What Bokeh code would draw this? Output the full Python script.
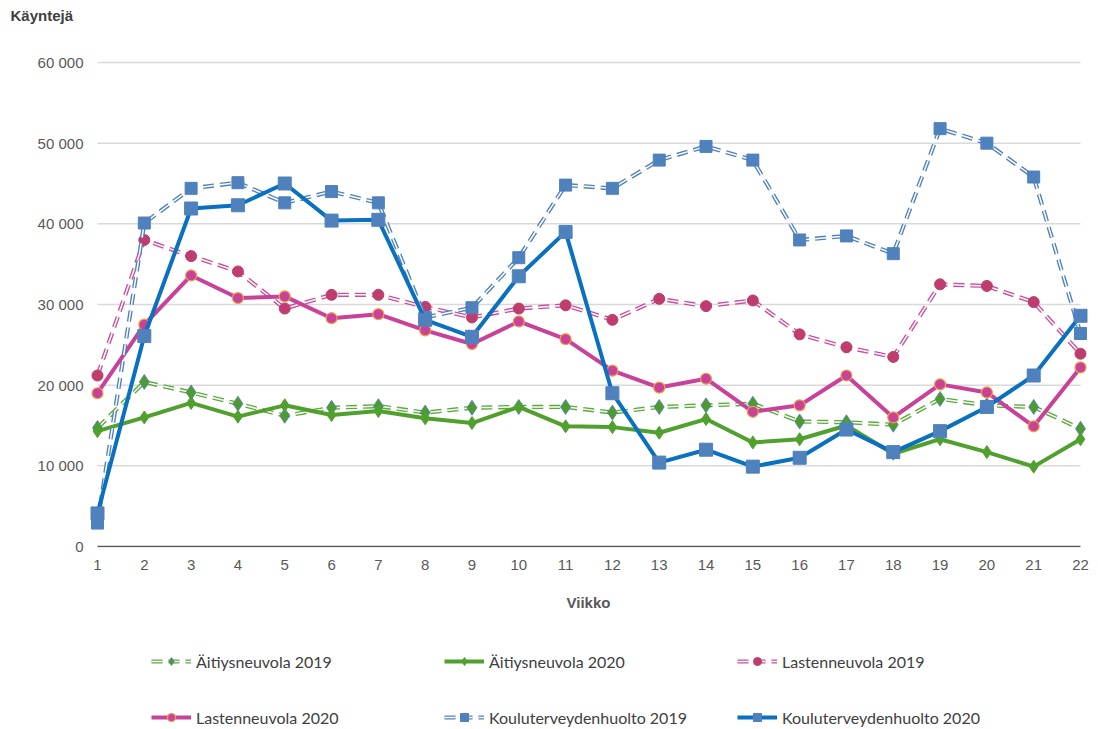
from bokeh.plotting import figure
from bokeh.layouts import column
from bokeh.models import (Range1d, FixedTicker, CustomJSTickFormatter, Legend, LegendItem,
                          ColumnDataSource, Label)
from bokeh.embed import file_html
from bokeh.resources import INLINE

weeks = list(range(1, 23))
aitiys_2019 = [14700, 20400, 19100, 17700, 16200, 17200, 17400, 16600, 17200, 17300, 17300,
               16600, 17300, 17500, 17700, 15500, 15400, 15100, 18300, 17500, 17300, 14600]
aitiys_2020 = [14300, 16000, 17800, 16100, 17500, 16300, 16800, 15900, 15300, 17300, 14900,
               14800, 14100, 15800, 12900, 13300, 15000, 11500, 13300, 11700, 9900, 13300]
lasten_2019 = [21200, 38000, 36000, 34100, 29500, 31200, 31200, 29700, 28400, 29500, 29900,
               28100, 30700, 29800, 30500, 26300, 24700, 23500, 32500, 32300, 30300, 23900]
lasten_2020 = [19000, 27500, 33600, 30800, 31000, 28300, 28800, 26800, 25100, 27900, 25700,
               21800, 19700, 20800, 16700, 17500, 21200, 16000, 20100, 19100, 14900, 22200]
koulu_2019 = [2900, 40100, 44400, 45100, 42600, 44000, 42600, 28400, 29600, 35800, 44800,
              44400, 47900, 49600, 47900, 38000, 38500, 36300, 51800, 50000, 45800, 26400]
koulu_2020 = [4100, 26100, 41900, 42300, 45000, 40400, 40500, 28100, 26000, 33500, 39000,
              19000, 10400, 12000, 9900, 11000, 14500, 11700, 14300, 17300, 21200, 28600]
y_ticks = [0, 10000, 20000, 30000, 40000, 50000, 60000]
labels = ["Äitiysneuvola 2019", "Äitiysneuvola 2020", "Lastenneuvola 2019",
          "Lastenneuvola 2020", "Kouluterveydenhuolto 2019", "Kouluterveydenhuolto 2020"]
series_values = [aitiys_2019, aitiys_2020, lasten_2019, lasten_2020, koulu_2019, koulu_2020]

W = 1096
TOP_H, MAIN_H, LEG_H = 30, 595, 102

# ---------- title strip ----------
pt = figure(width=W, height=TOP_H, output_backend="svg", toolbar_location=None,
            x_axis_location=None, y_axis_location=None, min_border=0, title=None,
            x_range=Range1d(0, 1), y_range=Range1d(0, 1), frame_align=False)
pt.outline_line_color = None
pt.grid.visible = False
pt.add_layout(Label(x=10, y=15, x_units="screen", y_units="screen", text="Käyntejä",
                    text_font="Liberation Sans", text_font_style="bold",
                    text_font_size="15px", text_color="#404040",
                    text_baseline="middle", text_align="left"))

# ---------- main chart ----------
p = figure(width=W, height=MAIN_H, output_backend="svg", toolbar_location=None, title=None,
           x_range=Range1d(0.7436, 22.235), y_range=Range1d(-124, 60124),
           min_border_left=85, min_border_right=W - 85 - 1006,
           min_border_top=31, min_border_bottom=MAIN_H - 31 - 486)
p.outline_line_color = None

p.yaxis.ticker = FixedTicker(ticks=y_ticks)
p.yaxis.formatter = CustomJSTickFormatter(code="return tick.toString().replace(/\\B(?=(\\d{3})+(?!\\d))/g, ' ');")
p.yaxis.axis_line_color = None
p.yaxis.major_tick_line_color = None
p.yaxis.minor_tick_line_color = None
p.yaxis.major_tick_out = 0
p.yaxis.minor_tick_out = 0
p.yaxis.major_label_standoff = 2
p.yaxis.major_label_text_font = "Liberation Sans"
p.yaxis.major_label_text_font_size = "15px"
p.yaxis.major_label_text_color = "#595959"

p.xaxis.ticker = FixedTicker(ticks=weeks)
p.xaxis.axis_line_color = None
p.xaxis.major_tick_line_color = None
p.xaxis.minor_tick_line_color = None
p.xaxis.major_tick_out = 0
p.xaxis.minor_tick_out = 0
p.xaxis.major_label_standoff = 12
p.xaxis.major_label_text_font = "Liberation Sans"
p.xaxis.major_label_text_font_size = "15px"
p.xaxis.major_label_text_color = "#595959"
p.xaxis.axis_label = "Viikko"
p.xaxis.axis_label_text_font = "Liberation Sans"
p.xaxis.axis_label_text_font_style = "bold"
p.xaxis.axis_label_text_font_size = "15px"
p.xaxis.axis_label_text_color = "#595959"
p.xaxis.axis_label_standoff = 21

p.xgrid.grid_line_color = None
p.ygrid.grid_line_color = None

gy = y_ticks[1:]
p.segment(x0=[weeks[0]] * len(gy), x1=[weeks[-1]] * len(gy), y0=gy, y1=gy,
          line_color="#D9D9D9", line_width=1.5)
p.segment(x0=[weeks[0]], x1=[weeks[-1]], y0=[y_ticks[0]], y1=[y_ticks[0]],
          line_color="#595959", line_width=1.5)

DASH = "11 6"
styles = [
    dict(double=True, color="#5AAA3C", marker="diamond", size=15, fill="#4E9A2E", outline="#4F81BD", olw=0.8),
    dict(double=False, color="#50A02D", marker="diamond", size=13, fill="#50A02D", outline="#50A02D", olw=1),
    dict(double=True, color="#CC4D9B", marker="circle", size=11, fill="#BE3C6E", outline="#BE3C6E", olw=1),
    dict(double=False, color="#C8429A", marker="circle", size=11, fill="#C8429A", outline="#F0A040", olw=1.2),
    dict(double=True, color="#4F81BD", marker="square", size=12, fill="#4F81BD", outline="#4F81BD", olw=1),
    dict(double=False, color="#0A70C0", marker="square", size=13, fill="#4F81BD", outline="#4F81BD", olw=1),
]

def add_series(fig, xs, ys, st):
    src = ColumnDataSource(dict(x=xs, y=ys))
    rs = []
    if st["double"]:
        rs.append(fig.line("x", "y", source=src, line_color=st["color"], line_width=4.2, line_dash=DASH))
        rs.append(fig.line("x", "y", source=src, line_color="white", line_width=1.5, line_dash=DASH))
    else:
        rs.append(fig.line("x", "y", source=src, line_color=st["color"], line_width=4))
    rs.append(fig.scatter("x", "y", source=src, marker=st["marker"], size=st["size"],
                          fill_color=st["fill"], line_color=st["outline"], line_width=st["olw"]))
    return rs

for vals, st in zip(series_values, styles):
    add_series(p, weeks, vals, st)

# ---------- legend strip ----------
pl = figure(width=W, height=LEG_H, output_backend="svg", toolbar_location=None,
            x_axis_location=None, y_axis_location=None, min_border=0, title=None,
            x_range=Range1d(0, 1), y_range=Range1d(0, 1), frame_align=False)
pl.outline_line_color = None
pl.grid.visible = False
items = []
for lab, st in zip(labels, styles):
    # legend-only renderers: a point kept outside the strip's visible range
    items.append(LegendItem(label=lab, renderers=add_series(pl, [-2, -1], [-2, -1], st)))
legend = Legend(items=items, ncols=3, orientation="horizontal", location=(151, 0),
                glyph_width=40, glyph_height=20, label_height=20, label_standoff=5,
                label_width=212, spacing=36, padding=0, margin=0,
                border_line_color=None, background_fill_alpha=0,
                label_text_font="Lato", label_text_font_size="16px",
                label_text_color="#404040")
pl.add_layout(legend, "center")

layout = column(pt, p, pl, spacing=0)
open("out.html", "w").write(file_html(layout, INLINE))
